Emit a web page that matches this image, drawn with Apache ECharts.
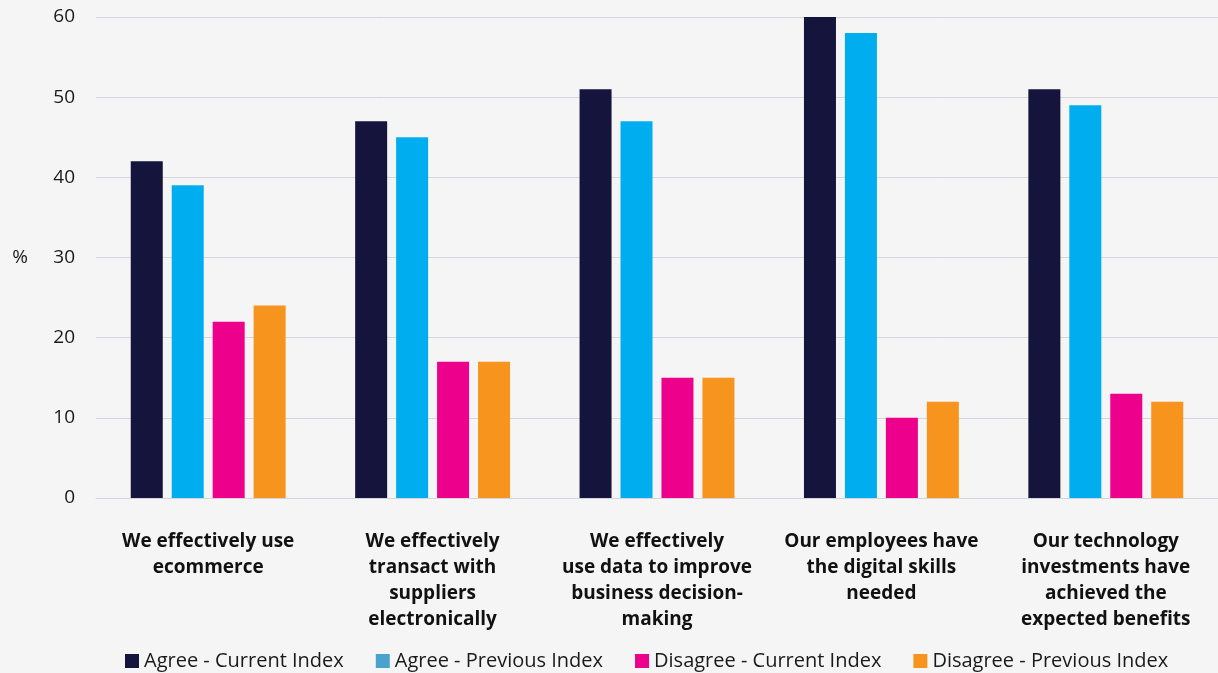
<!DOCTYPE html>
<html>
<head>
<meta charset="utf-8">
<script src="https://cdn.jsdelivr.net/npm/echarts@6/dist/echarts.min.js"></script>
<style>
  html, body { margin: 0; padding: 0; background: #f5f5f5; }
  #chart { width: 1218px; height: 673px; }
</style>
</head>
<body>
<div id="chart"></div>
<script>
// Survey statements (x-axis categories)
const categories = [
  'We effectively use\necommerce',
  'We effectively\ntransact with\nsuppliers\nelectronically',
  'We effectively\nuse data to improve\nbusiness decision-\nmaking',
  'Our employees have\nthe digital skills\nneeded',
  'Our technology\ninvestments have\nachieved the\nexpected benefits'
];

// Share of respondents, %
const agreeCurrent     = [42, 47, 51, 60, 51];
const agreePrevious    = [39, 45, 47, 58, 49];
const disagreeCurrent  = [22, 17, 15, 10, 13];
const disagreePrevious = [24, 17, 15, 12, 12];

const seriesNames = [
  'Agree - Current Index',
  'Agree - Previous Index',
  'Disagree - Current Index',
  'Disagree - Previous Index'
];

const yTicks = { min: 0, max: 60, interval: 10 };

const colors = ['#14143c', '#00aeef', '#ec008c', '#f7941d'];
const legendColors = ['#14143c', '#4aa3cc', '#ec008c', '#f7941d'];

const FONT = '"Open Sans", "Noto Sans", sans-serif';

const chart = echarts.init(document.getElementById('chart'));

const seriesData = [agreeCurrent, agreePrevious, disagreeCurrent, disagreePrevious];

chart.setOption({
  backgroundColor: '#f5f5f5',
  animation: false,
  textStyle: { fontFamily: FONT },
  grid: { left: 96, right: 0, top: 17, bottom: 175 },
  legend: {
    top: 646,
    left: 120,
    itemWidth: 14,
    itemHeight: 14,
    itemGap: 32,
    icon: 'rect',
    textStyle: { fontSize: 20, color: '#1a1a1a', fontFamily: FONT },
    data: seriesNames.map((n, i) => ({ name: n, itemStyle: { color: legendColors[i] } }))
  },
  xAxis: {
    type: 'category',
    data: categories,
    axisTick: { show: false },
    axisLine: { show: true, lineStyle: { color: '#d4d4dc', width: 1 } },
    axisLabel: {
      interval: 0,
      margin: 31,
      fontSize: 19,
      fontWeight: 'bold',
      lineHeight: 26,
      color: '#111',
      fontFamily: FONT,
      align: 'center'
    }
  },
  yAxis: {
    type: 'value',
    min: yTicks.min,
    max: yTicks.max,
    interval: yTicks.interval,
    name: '%',
    nameLocation: 'middle',
    nameRotate: 0,
    nameGap: 68,
    nameTextStyle: { fontSize: 19, color: '#1a1a1a', fontFamily: FONT },
    axisLine: { show: false },
    axisTick: { show: false },
    axisLabel: { margin: 21, fontSize: 19, color: '#1a1a1a', fontFamily: FONT },
    splitLine: { lineStyle: { color: '#d4d4dc', width: 1 } }
  },
  series: seriesData.map((d, i) => ({
    name: seriesNames[i],
    type: 'bar',
    data: d,
    barWidth: 32,
    barGap: '28%',
    itemStyle: { color: colors[i] }
  }))
});
</script>
</body>
</html>
